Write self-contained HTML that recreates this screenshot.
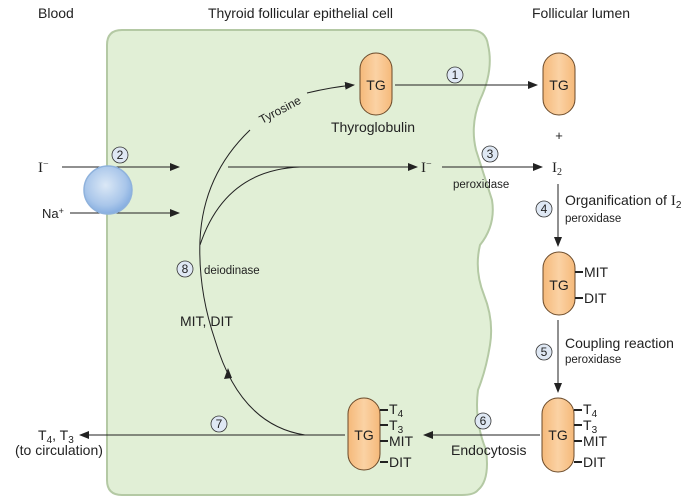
<!DOCTYPE html>
<html><head><meta charset="utf-8"><style>
html,body{margin:0;padding:0;background:#fff}
svg{display:block}
text{font-family:"Liberation Sans",sans-serif;fill:#222}
.s{font-family:"Liberation Serif",serif}
</style></head><body>
<svg width="685" height="501" viewBox="0 0 685 501" xmlns="http://www.w3.org/2000/svg">
<defs>
<marker id="a" markerWidth="10" markerHeight="8" refX="9" refY="4" orient="auto" markerUnits="userSpaceOnUse"><path d="M0,0 L10,4 L0,8 Z" fill="#222"/></marker>
<radialGradient id="bub" cx="45%" cy="40%" r="60%"><stop offset="0" stop-color="#dbe8f6"/><stop offset="0.7" stop-color="#a9c6ea"/><stop offset="1" stop-color="#86aee0"/></radialGradient>
<linearGradient id="pill" x1="0" x2="1"><stop offset="0" stop-color="#f5b97a"/><stop offset="0.5" stop-color="#fbd2a4"/><stop offset="1" stop-color="#f5b97a"/></linearGradient>
</defs>
<text x="38" y="18" font-size="14">Blood</text>
<text x="208" y="18" font-size="14" textLength="185">Thyroid follicular epithelial cell</text>
<text x="532" y="18" font-size="14">Follicular lumen</text>
<!-- cell -->
<path d="M122,30 L470,30 Q486,30 488,45 Q494,70 480,100 Q470,125 476,150 Q484,175 492,200 Q496,225 480,245 Q474,270 484,295 Q494,320 490,345 Q486,370 478,390 Q474,420 486,450 Q490,480 478,490 Q474,495 462,495 L122,495 Q107,495 107,480 L107,45 Q107,30 122,30 Z" fill="#e1efd6" stroke="#b4c9a4" stroke-width="2"/>
<!-- pills -->
<rect x="360" y="53" width="32" height="62" rx="16" fill="url(#pill)" stroke="#6a4a2a" stroke-width="1"/>
<text x="376" y="90" font-size="14" text-anchor="middle">TG</text>
<rect x="543" y="53" width="32" height="62" rx="16" fill="url(#pill)" stroke="#6a4a2a" stroke-width="1"/>
<text x="559" y="90" font-size="14" text-anchor="middle">TG</text>
<rect x="543" y="252" width="32" height="63" rx="16" fill="url(#pill)" stroke="#6a4a2a" stroke-width="1"/>
<text x="559" y="290" font-size="14" text-anchor="middle">TG</text>
<rect x="542" y="398" width="32" height="74" rx="16" fill="url(#pill)" stroke="#6a4a2a" stroke-width="1"/>
<text x="558" y="440" font-size="14" text-anchor="middle">TG</text>
<rect x="348" y="398" width="32" height="72" rx="16" fill="url(#pill)" stroke="#6a4a2a" stroke-width="1"/>
<text x="364" y="440" font-size="14" text-anchor="middle">TG</text>
<!-- tick labels -->
<g stroke="#222" stroke-width="2">
<path d="M575,272h8M575,298h8"/>
<path d="M574,410h8M574,425h8M574,441h8M574,462h8"/>
<path d="M380,410h8M380,425h8M380,441h8M380,462h8"/>
</g>
<g font-size="14">
<text x="584" y="277">MIT</text><text x="584" y="303">DIT</text>
<text x="583" y="414">T<tspan font-size="10" dy="3">4</tspan></text>
<text x="583" y="430">T<tspan font-size="10" dy="3">3</tspan></text>
<text x="583" y="446">MIT</text><text x="583" y="467">DIT</text>
<text x="389" y="414">T<tspan font-size="10" dy="3">4</tspan></text>
<text x="389" y="430">T<tspan font-size="10" dy="3">3</tspan></text>
<text x="389" y="446">MIT</text><text x="389" y="467">DIT</text>
</g>
<!-- arrows -->
<g stroke="#222" stroke-width="1" fill="none">
<line x1="395" y1="85" x2="537" y2="85" marker-end="url(#a)"/>
<line x1="62" y1="167" x2="179" y2="167" marker-end="url(#a)"/>
<line x1="70" y1="213" x2="179" y2="213" marker-end="url(#a)"/>
<line x1="228" y1="167" x2="417" y2="167" marker-end="url(#a)"/>
<line x1="442" y1="167" x2="542" y2="167" marker-end="url(#a)"/>
<line x1="558" y1="184" x2="558" y2="246" marker-end="url(#a)"/>
<line x1="558" y1="320" x2="558" y2="392" marker-end="url(#a)"/>
<line x1="540" y1="435" x2="424" y2="435" marker-end="url(#a)"/>
<line x1="345" y1="435" x2="80" y2="435" marker-end="url(#a)"/>
<path d="M305,435 Q240,425 215,340 Q198,290 200,240 Q203,175 250,130" />
<path d="M307,93 Q332,87 354,85" marker-end="url(#a)"/>
<path d="M200,245 Q225,170 300,167"/>
</g>
<path d="M228,368 L224,379 L232,378 Z" fill="#222"/>
<!-- bubble -->
<circle cx="108" cy="190" r="24" fill="url(#bub)" stroke="#8fb2dc" stroke-width="1.5"/>
<!-- numbers -->
<g font-size="12" text-anchor="middle">
<circle cx="455" cy="75" r="8" fill="#dfe8f4" stroke="#333" stroke-width="0.8"/><text x="455" y="79">1</text>
<circle cx="120" cy="155" r="8" fill="#dfe8f4" stroke="#333" stroke-width="0.8"/><text x="120" y="159">2</text>
<circle cx="490" cy="154" r="8" fill="#dfe8f4" stroke="#333" stroke-width="0.8"/><text x="490" y="158">3</text>
<circle cx="544" cy="209" r="8" fill="#dfe8f4" stroke="#333" stroke-width="0.8"/><text x="544" y="213">4</text>
<circle cx="544" cy="352" r="8" fill="#dfe8f4" stroke="#333" stroke-width="0.8"/><text x="544" y="356">5</text>
<circle cx="483" cy="421" r="8" fill="#dfe8f4" stroke="#333" stroke-width="0.8"/><text x="483" y="425">6</text>
<circle cx="219" cy="424" r="8" fill="#dfe8f4" stroke="#333" stroke-width="0.8"/><text x="219" y="428">7</text>
<circle cx="185" cy="269" r="8" fill="#dfe8f4" stroke="#333" stroke-width="0.8"/><text x="185" y="273">8</text>
</g>
<!-- labels -->
<text x="280" y="114" font-size="12" transform="rotate(-28 280 110)" text-anchor="middle">Tyrosine</text>
<text x="373" y="132" font-size="14" text-anchor="middle">Thyroglobulin</text>
<text x="559" y="140" font-size="13" text-anchor="middle">+</text>
<text x="38" y="172" font-size="15" class="s">I<tspan font-size="10" dy="-5">−</tspan></text>
<text x="42" y="218" font-size="13">Na<tspan font-size="9" dy="-4">+</tspan></text>
<text x="421" y="172" font-size="15" class="s">I<tspan font-size="10" dy="-5">−</tspan></text>
<text x="453" y="188" font-size="11.5">peroxidase</text>
<text x="552" y="172" font-size="15" class="s">I<tspan font-size="10" dy="3">2</tspan></text>
<text x="565" y="205" font-size="14">Organification of <tspan class="s" font-size="15">I</tspan><tspan font-size="10" dy="3">2</tspan></text>
<text x="565" y="222" font-size="11.5">peroxidase</text>
<text x="565" y="348" font-size="14">Coupling reaction</text>
<text x="565" y="363" font-size="11.5">peroxidase</text>
<text x="204" y="274" font-size="11.5">deiodinase</text>
<text x="180" y="326" font-size="14">MIT, DIT</text>
<text x="451" y="455" font-size="14">Endocytosis</text>
<text x="38" y="440" font-size="14">T<tspan font-size="10" dy="3">4</tspan><tspan dy="-3">, T</tspan><tspan font-size="10" dy="3">3</tspan></text>
<text x="15" y="455" font-size="14">(to circulation)</text>
</svg>
</body></html>
